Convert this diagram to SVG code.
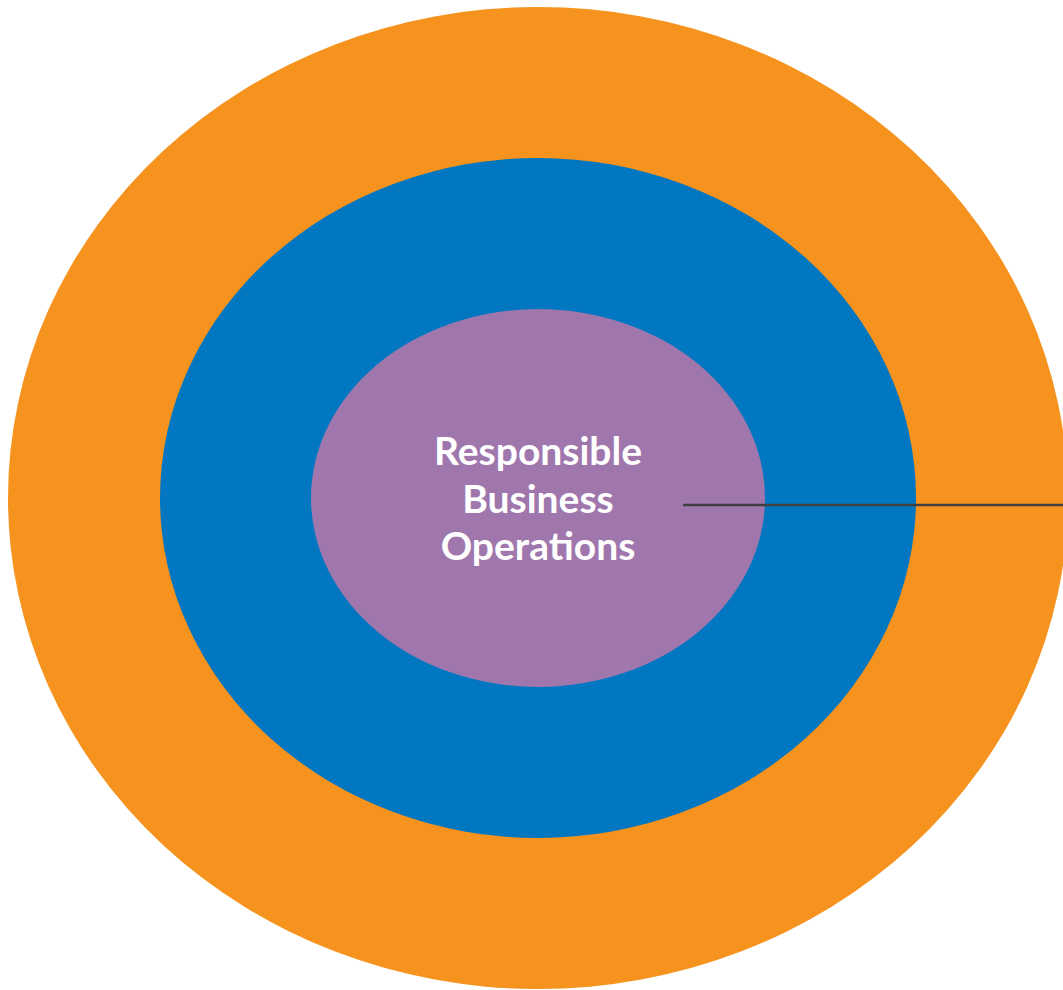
<svg xmlns="http://www.w3.org/2000/svg" width="1063" height="990" viewBox="0 0 1063 990">
<style>
.lbl{font-family:Lato,"Open Sans","Liberation Sans",sans-serif;font-weight:bold;font-size:39px;fill:#ffffff;text-anchor:middle}
</style>
<rect width="1063" height="990" fill="#ffffff"/>
<g id="outer"><ellipse cx="538" cy="498" rx="530" ry="491" fill="#f6921e"/></g>
<g id="middle"><ellipse cx="538" cy="498" rx="378" ry="340" fill="#0077c0"/></g>
<g id="inner"><ellipse cx="538" cy="498" rx="227" ry="189" fill="#a077ad"/>
<text class="lbl" x="538" y="465">Responsible</text>
<text class="lbl" x="538" y="513">Business</text>
<text class="lbl" x="538" y="560">Operations</text>
</g>
<g id="connectors"><line x1="683" y1="505" x2="1063" y2="505" stroke="#404040" stroke-width="2.5"/></g>
</svg>
